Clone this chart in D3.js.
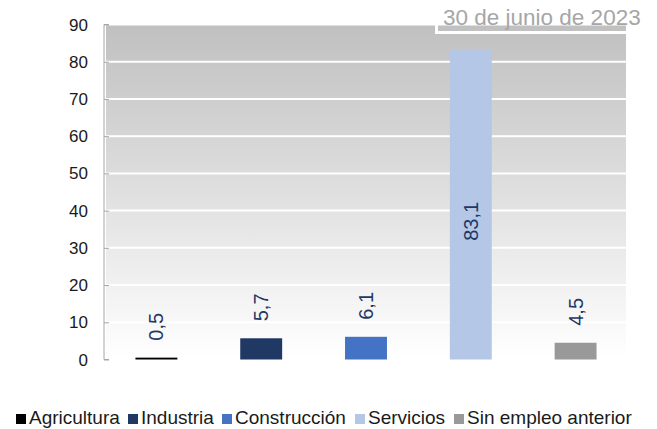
<!DOCTYPE html>
<html>
<head>
<meta charset="utf-8">
<script src="https://cdn.jsdelivr.net/npm/d3@7"></script>
<style>
  body { margin: 0; background: white; }
  text { font-family: "Liberation Sans", Arial, sans-serif; }
</style>
</head>
<body>
<svg id="plot"></svg>
<script>
// Data
const categories = ["Agricultura", "Industria", "Construcción", "Servicios", "Sin empleo anterior"];
const values = [0.5, 5.7, 6.1, 83.1, 4.5];
const colors = ["#000000", "#1f3864", "#4472c4", "#b4c7e7", "#999999"];
const yTicks = [0, 10, 20, 30, 40, 50, 60, 70, 80, 90];
const title = "30 de junio de 2023";

let width = 657, height = 429;
let margin = { top: 24.5, bottom: 69.5, left: 104, right: 29 };

let svg = d3.select('#plot')
  .attr('width', width)
  .attr('height', height)
  .style('background', 'white');

let yScale = d3.scaleLinear()
  .domain([0, 90])
  .range([height - margin.bottom, margin.top]);

let xScale = d3.scaleBand()
  .domain(categories)
  .range([margin.left, width - margin.right])
  .paddingInner(0.6)
  .paddingOuter(0.3);

// gradient background of the plot area
let defs = svg.append('defs');
let grad = defs.append('linearGradient')
  .attr('id', 'bg').attr('x1', 0).attr('y1', 0).attr('x2', 0).attr('y2', 1);
grad.append('stop').attr('offset', '0%').attr('stop-color', '#c0c0c0');
grad.append('stop').attr('offset', '100%').attr('stop-color', '#ffffff');

svg.append('rect')
  .attr('x', margin.left + 2)
  .attr('y', yScale(90))
  .attr('width', width - margin.right - margin.left - 4)
  .attr('height', yScale(0) - yScale(90))
  .attr('fill', 'url(#bg)');

// white gridlines
svg.append('g')
  .selectAll('line')
  .data(yTicks.filter(d => d > 0))
  .enter()
  .append('line')
  .attr('x1', margin.left + 2)
  .attr('x2', width - margin.right - 2)
  .attr('y1', d => yScale(d))
  .attr('y2', d => yScale(d))
  .attr('stroke', 'white')
  .attr('stroke-width', 2);

// title box
svg.append('rect')
  .attr('x', 436.5)
  .attr('y', 2)
  .attr('width', 212)
  .attr('height', 30.5)
  .attr('fill', 'none')
  .attr('stroke', 'white')
  .attr('stroke-width', 3);

svg.append('text')
  .attr('x', 443)
  .attr('y', 25)
  .attr('font-size', 22.5)
  .attr('fill', '#a6a6a6')
  .text(title);

// y axis with inward ticks
let yAxis = svg.append('g')
  .attr('transform', `translate(${margin.left}, 0)`)
  .call(d3.axisRight(yScale).tickValues(yTicks).tickSize(5).tickFormat(''));
yAxis.select('.domain').attr('stroke', '#a6a6a6').attr('d', `M5,${yScale(90)}H0V${yScale(0)}H5`);
yAxis.selectAll('.tick line').attr('stroke', '#a6a6a6');

svg.append('g')
  .selectAll('text')
  .data(yTicks)
  .enter()
  .append('text')
  .attr('x', margin.left - 16)
  .attr('y', d => yScale(d) + 6)
  .attr('text-anchor', 'end')
  .attr('font-size', 17)
  .attr('fill', '#1a1a1a')
  .text(d => d);

// bars
svg.append('g')
  .selectAll('rect')
  .data(values)
  .enter()
  .append('rect')
  .attr('x', (d, i) => xScale(categories[i]))
  .attr('y', d => yScale(d))
  .attr('width', xScale.bandwidth())
  .attr('height', d => yScale(0) - yScale(d))
  .attr('fill', (d, i) => colors[i]);

// rotated value labels
svg.append('g')
  .selectAll('text')
  .data(values)
  .enter()
  .append('text')
  .attr('transform', (d, i) => {
    let cx = xScale(categories[i]) + xScale.bandwidth() / 2 + 7;
    let y = d > 50 ? (yScale(d) + yScale(0)) / 2 + 36 : yScale(d) - 17;
    return `translate(${cx}, ${y}) rotate(-90)`;
  })
  .attr('font-size', 20)
  .attr('fill', '#1f3864')
  .text(d => String(d).replace('.', ','));

// legend
let legendX = [16, 128, 222, 355, 454];
let legend = svg.append('g')
  .selectAll('g')
  .data(categories)
  .enter()
  .append('g')
  .attr('transform', (d, i) => `translate(${legendX[i]}, 414)`);
legend.append('rect')
  .attr('width', 10).attr('height', 10)
  .attr('fill', (d, i) => colors[i]);
legend.append('text')
  .attr('x', 13)
  .attr('y', 10)
  .attr('font-size', 19)
  .attr('fill', '#1a1a1a')
  .text(d => d);
</script>
</body>
</html>
